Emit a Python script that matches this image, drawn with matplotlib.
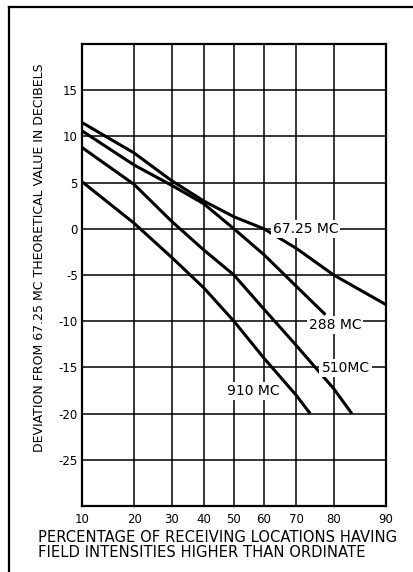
from statistics import NormalDist

import matplotlib
matplotlib.use('Agg')
import matplotlib.pyplot as plt
import numpy as np
from matplotlib.lines import Line2D

# percentage of receiving locations (probability scale) and deviation in dB
pct_6725 = [10, 20, 30, 40, 50, 60, 70, 80, 90]
db_6725 = [11.5, 8.2, 5.2, 3.0, 1.3, 0.0, -2.1, -5.0, -8.2]

pct_288 = [10, 20, 30, 40, 50, 60, 70, 78]
db_288 = [10.6, 6.9, 4.7, 2.7, 0.0, -2.8, -6.2, -9.3]

pct_510 = [10, 20, 30, 40, 50, 60, 70, 80, 84]
db_510 = [8.8, 4.8, 0.8, -2.3, -5.0, -8.7, -12.6, -17.3, -20.0]

pct_910 = [10, 20, 30, 40, 50, 60, 70, 74]
db_910 = [5.1, 0.6, -3.1, -6.4, -10.0, -14.0, -18.0, -20.0]

x_ticks = [10, 20, 30, 40, 50, 60, 70, 80, 90]
y_ticks = [-25, -20, -15, -10, -5, 0, 5, 10, 15]

_nd = NormalDist()
_inv = np.vectorize(lambda p: _nd.inv_cdf(min(max(p / 100.0, 1e-9), 1 - 1e-9)),
                    otypes=[float])
_cdf = np.vectorize(lambda z: 100.0 * _nd.cdf(z), otypes=[float])


def forward(p):
    return _inv(np.asarray(p, dtype=float))


def inverse(z):
    return _cdf(np.asarray(z, dtype=float))


plt.rcParams['font.family'] = ['DejaVu Sans']

fig = plt.figure(figsize=(4.14, 5.72), dpi=100)
ax = fig.add_axes([0.198, 0.1154, 0.734, 0.8077])

ax.set_xscale('function', functions=(forward, inverse))
ax.set_xlim(10, 90)
ax.set_ylim(-30, 20)

for x in x_ticks[1:-1]:
    ax.axvline(x, color='black', lw=1.1, zorder=1)
for y in y_ticks:
    ax.axhline(y, color='black', lw=1.1, zorder=1)

ax.set_xticks(x_ticks)
ax.set_xticklabels([str(v) for v in x_ticks], fontsize=8.5)
ax.xaxis.set_minor_locator(matplotlib.ticker.NullLocator())
ax.set_yticks(y_ticks)
ax.set_yticklabels([str(v) for v in y_ticks], fontsize=8.5)
ax.tick_params(length=0, pad=5)
ax.tick_params(axis='y', pad=3)

for s in ax.spines.values():
    s.set_linewidth(1.6)

curves = [(pct_6725, db_6725), (pct_288, db_288), (pct_510, db_510), (pct_910, db_910)]
for px, dy in curves:
    ax.plot(px, dy, color='black', lw=2.2, solid_capstyle='butt', zorder=3)

lbl = dict(fontsize=10, ha='center', va='center', zorder=4,
           bbox=dict(facecolor='white', edgecolor='none', pad=1.5))
ax.text(72.7, 0, '67.25 MC', **lbl)
ax.text(80.3, -10.4, '288 MC', **lbl)
ax.text(82.7, -15.1, '510MC', **lbl)
ax.text(56.5, -17.6, '910 MC', **lbl)

ax.set_ylabel('DEVIATION FROM 67.25 MC THEORETICAL VALUE IN DECIBELS', fontsize=9)
ax.yaxis.set_label_coords(-0.118, 0.537)

fig.text(0.092, 0.060, 'PERCENTAGE OF RECEIVING LOCATIONS HAVING',
         fontsize=10.6, ha='left', va='center')
fig.text(0.092, 0.034, 'FIELD INTENSITIES HIGHER THAN ORDINATE',
         fontsize=10.6, ha='left', va='center')

# outer frame of the printed figure (left and top edges only)
fig.add_artist(Line2D([9 / 414, 9 / 414], [0, 1 - 7 / 572], transform=fig.transFigure,
                      color='black', lw=1.6))
fig.add_artist(Line2D([9 / 414, 1], [1 - 7 / 572, 1 - 7 / 572], transform=fig.transFigure,
                      color='black', lw=1.6))

fig.savefig('out.png', dpi=100)
